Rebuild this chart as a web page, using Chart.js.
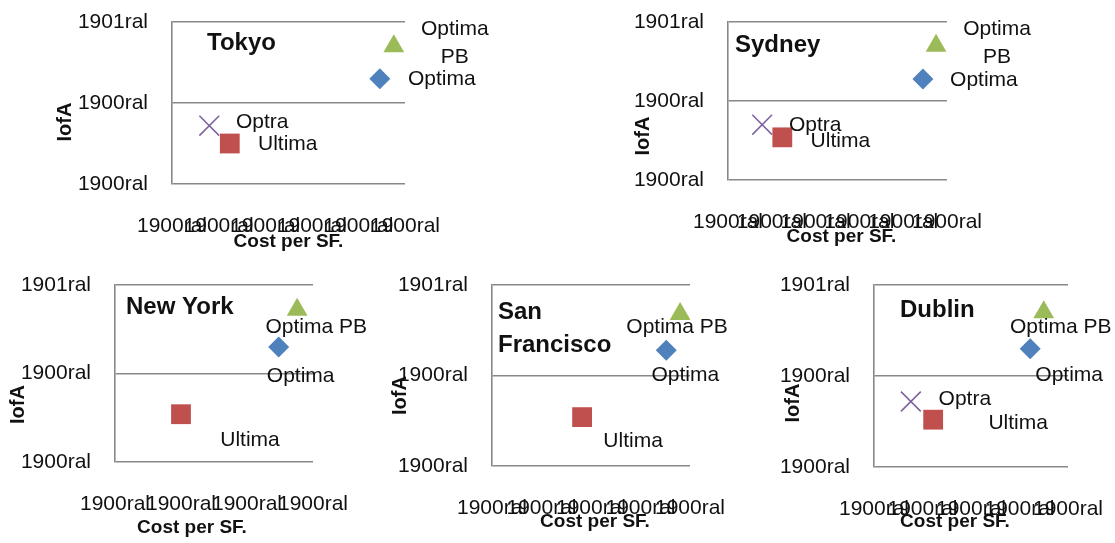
<!DOCTYPE html>
<html>
<head>
<meta charset="utf-8">
<script src="https://cdn.jsdelivr.net/npm/chart.js@4/dist/chart.umd.min.js"></script>
<style>
  body { margin: 0; background: #fff; width: 1115px; height: 543px; overflow: hidden; position: relative; }
  canvas { position: absolute; }
</style>
</head>
<body>
<script>
// Products plotted in every city (same order everywhere)
const products = ['Optima PB', 'Optima', 'Optra', 'Ultima'];
const productColors = ['#9BBB59', '#4F81BD', '#8064A2', '#C0504D'];
const productShapes = ['triangle', 'rectRot', 'crossRot', 'rect'];
const productRadius = [12, 10.5, 14, 14];

// Tick labels (the source sheet had a broken date format on both axes)
const yTickLabels = ['1900ral', '1900ral', '1901ral'];
const xTicksTokyo = ['1900ral', '1900ral', '1900ral', '1900ral', '1900ral', '1900ral'];
const xTicksSydney = ['1900ral', '1900ral', '1900ral', '1900ral', '1900ral', '1900ral'];
const xTicksNewYork = ['1900ral', '1900ral', '1900ral', '1900ral'];
const xTicksSanFrancisco = ['1900ral', '1900ral', '1900ral', '1900ral', '1900ral'];
const xTicksDublin = ['1900ral', '1900ral', '1900ral', '1900ral', '1900ral'];

// Cost per SF. (x) and IofA (y), one value per product, null = not sold there
const costTokyo = [4.76, 4.46, 0.80, 1.24];
const iofaTokyo = [85, 65, 36, 25];
const costSydney = [4.75, 4.45, 0.78, 1.24];
const iofaSydney = [85, 64, 35, 27];
const costNewYork = [2.76, 2.48, null, 1.00];
const iofaNewYork = [86, 65, null, 27];
const costSanFrancisco = [3.80, 3.52, null, 1.82];
const iofaSanFrancisco = [84, 64, null, 27];
const costDublin = [3.50, 3.22, 0.76, 1.22];
const iofaDublin = [85, 65, 36, 26];

const FONT = "'Liberation Sans', Arial, sans-serif";
const TEXT = '#111';
const GRID = '#888888';
// y scale asks for half a label + tick padding above the plot, so keep PAD_T above that
const YW = 130, XH = 90, PAD_T = 40, PAD_R = 110;

// where each small chart sits on the page and where its texts go
let panels = [
  { title: ['Tokyo'], cost: costTokyo, iofa: iofaTokyo, xTicks: xTicksTokyo,
    box: [172, 22, 405, 184], titleAt: [35, 21], xTitleAt: [0, 58], yTitleAt: [-107, 19],
    labelAt: [[61, -3], [62, 1], [53, -3], [58, 1]], wrap: [true, false, false, false] },
  { title: ['Sydney'], cost: costSydney, iofa: iofaSydney, xTicks: xTicksSydney,
    box: [728, 22, 947, 180], titleAt: [7, 23], xTitleAt: [4, 57], yTitleAt: [-85, 35],
    labelAt: [[61, -2], [61, 1], [53, 1], [58, 4]], wrap: [true, false, false, false] },
  { title: ['New York'], cost: costNewYork, iofa: iofaNewYork, xTicks: xTicksNewYork,
    box: [115, 285, 313, 462], titleAt: [11, 22], xTitleAt: [-22, 66], yTitleAt: [-97, 31],
    labelAt: [[19, 17], [22, 29], [0, 0], [69, 26]], wrap: [false, false, false, false] },
  { title: ['San', 'Francisco'], cost: costSanFrancisco, iofa: iofaSanFrancisco, xTicks: xTicksSanFrancisco,
    box: [492, 285, 690, 466], titleAt: [6, 27], xTitleAt: [4, 56], yTitleAt: [-92, 20],
    labelAt: [[-3, 13], [19, 25], [0, 0], [51, 24]], wrap: [false, false, false, false] },
  { title: ['Dublin'], cost: costDublin, iofa: iofaDublin, xTicks: xTicksDublin,
    box: [874, 285, 1068, 467], titleAt: [26, 25], xTitleAt: [-16, 55], yTitleAt: [-81, 27],
    labelAt: [[17, 15], [39, 27], [54, -2], [85, 4]], wrap: [false, false, false, false] }
];

// draws point labels, city name and axis titles
const panelText = {
  id: 'panelText',
  afterDatasetsDraw(chart, args, opts) {
    let p = opts.panel;
    let ctx = chart.ctx;
    let a = chart.chartArea;
    ctx.save();
    ctx.fillStyle = TEXT;

    ctx.font = '21px ' + FONT;
    ctx.textAlign = 'center';
    ctx.textBaseline = 'middle';
    chart.data.datasets.forEach(function(ds, i) {
      if (!ds.data.length) return;
      let el = chart.getDatasetMeta(i).data[0];
      let lines = p.wrap[i] ? ds.label.split(' ') : [ds.label];
      let cx = el.x + p.labelAt[i][0];
      let cy = el.y + p.labelAt[i][1] - (lines.length - 1) * 14;
      for (let k = 0; k < lines.length; k++) {
        ctx.fillText(lines[k], cx, cy + k * 28);
      }
    });

    // city name
    ctx.font = 'bold 24px ' + FONT;
    ctx.textAlign = 'left';
    for (let k = 0; k < p.title.length; k++) {
      ctx.fillText(p.title[k], a.left + p.titleAt[0], a.top + p.titleAt[1] + k * 33);
    }

    // axis titles
    ctx.font = 'bold 19px ' + FONT;
    ctx.textAlign = 'center';
    ctx.fillText('Cost per SF.', (a.left + a.right) / 2 + p.xTitleAt[0], a.bottom + p.xTitleAt[1]);

    ctx.translate(a.left + p.yTitleAt[0], (a.top + a.bottom) / 2 + p.yTitleAt[1]);
    ctx.rotate(-Math.PI / 2);
    ctx.font = 'bold 20px ' + FONT;
    ctx.fillText('IofA', 0, 0);
    ctx.restore();
  }
};

panels.forEach(function(p) {
  let [L, T, R, B] = p.box;
  let canvas = document.createElement('canvas');
  canvas.width = R - L + YW + PAD_R;
  canvas.height = B - T + XH + PAD_T;
  canvas.style.left = (L - YW) + 'px';
  canvas.style.top = (T - PAD_T) + 'px';
  document.body.appendChild(canvas);

  let datasets = products.map(function(name, i) {
    let pts = p.cost[i] == null ? [] : [{ x: p.cost[i], y: p.iofa[i] }];
    return {
      label: name,
      data: pts,
      pointStyle: productShapes[i],
      pointRadius: productRadius[i],
      backgroundColor: productColors[i],
      borderColor: productColors[i],
      borderWidth: productShapes[i] == 'crossRot' ? 1.6 : 0
    };
  });

  new Chart(canvas.getContext('2d'), {
    type: 'scatter',
    data: { datasets: datasets },
    plugins: [panelText],
    options: {
      responsive: false,
      animation: false,
      layout: { padding: { left: 0, top: PAD_T, right: PAD_R, bottom: 0 } },
      plugins: {
        legend: { display: false },
        tooltip: { enabled: false },
        panelText: { panel: p }
      },
      scales: {
        x: {
          type: 'linear',
          min: 0,
          max: p.xTicks.length - 1,
          grid: { display: false },
          border: { display: false },
          ticks: {
            stepSize: 1, autoSkip: false, maxRotation: 0, minRotation: 0, padding: 22,
            color: TEXT, font: { family: FONT, size: 21 },
            callback: function(v, i) { return p.xTicks[i]; }
          },
          afterFit: function(s) { s.height = XH; }
        },
        y: {
          min: 0,
          max: 100,
          grid: { color: GRID, lineWidth: 1.6, drawTicks: false },
          border: { display: true, color: GRID, width: 1.6 },
          ticks: {
            stepSize: 50, padding: 24,
            color: TEXT, font: { family: FONT, size: 21 },
            callback: function(v, i) { return yTickLabels[i]; }
          },
          afterFit: function(s) { s.width = YW; }
        }
      }
    }
  });
});
</script>
</body>
</html>
